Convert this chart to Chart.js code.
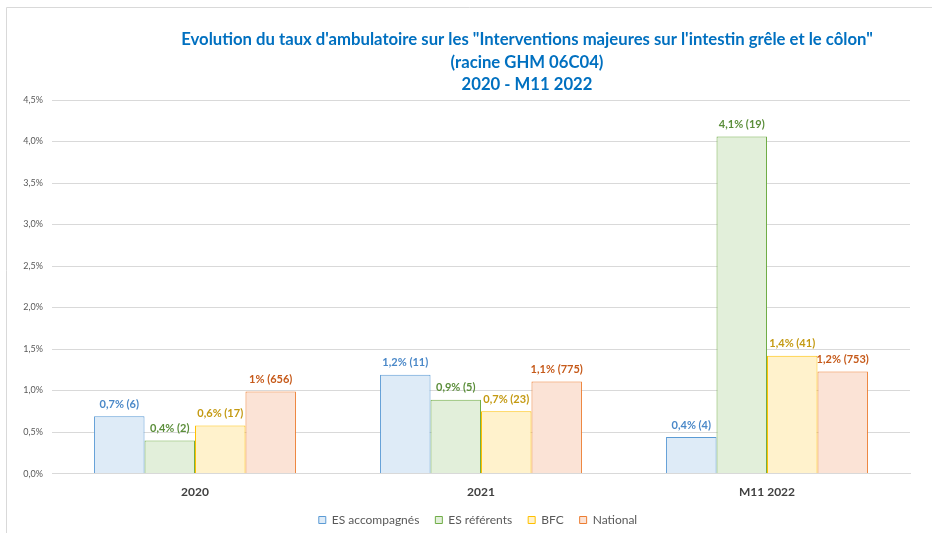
<!DOCTYPE html>
<html>
<head>
<meta charset="utf-8">
<script src="https://cdn.jsdelivr.net/npm/chart.js@4"></script>
<style>
	html, body { margin: 0; padding: 0; background: #fff; }
	#wrap { width: 932px; height: 533px; position: relative; }
</style>
</head>
<body>
<div id="wrap"><canvas id="chart_ambu" width="932" height="533"></canvas></div>
<script>
"use strict";

const periodsArr = ["2020", "2021", "M11 2022"];
const seriesNames = ["ES accompagnés", "ES référents", "BFC", "National"];
const esAccompArr = [0.69, 1.19, 0.44];
const esRefArr = [0.40, 0.89, 4.06];
const bfcArr = [0.58, 0.75, 1.42];
const nationalArr = [0.99, 1.11, 1.23];
const esAccompLabels = ["0,7% (6)", "1,2% (11)", "0,4% (4)"];
const esRefLabels = ["0,4% (2)", "0,9% (5)", "4,1% (19)"];
const bfcLabels = ["0,6% (17)", "0,7% (23)", "1,4% (41)"];
const nationalLabels = ["1% (656)", "1,1% (775)", "1,2% (753)"];
const titleLines = [
	"Evolution du taux d'ambulatoire sur les \"Interventions majeures sur l'intestin grêle et le côlon\"",
	"(racine GHM 06C04)",
	"2020 - M11 2022",
];

const fontFam = "Lato, 'Open Sans', sans-serif";

function makeSet(label, data, txt, border, fill, labelColor) {
	return {
		label: label,
		data: data,
		valueLabels: txt,
		labelColor: labelColor,
		borderColor: border,
		backgroundColor: fill,
		borderWidth: 1,
		borderSkipped: "bottom",
		categoryPercentage: 0.706,
		barPercentage: 1.0,
	};
}

// draws frame, title and the value labels above the bars
const decorPlugin = {
	id: "decor",
	afterLayout(chart) {
		// legend is centred under the plot area, not the canvas
		const lg = chart.legend;
		if (lg) {
			lg.left += 23;
			lg.right += 23;
		}
	},
	beforeDraw(chart) {
		const c = chart.ctx;
		c.save();
		c.strokeStyle = "#d9d9d9";
		c.lineWidth = 1;
		c.beginPath();
		c.moveTo(6.5, 533);
		c.lineTo(6.5, 7.5);
		c.lineTo(932, 7.5);
		c.stroke();
		c.restore();
	},
	afterDatasetsDraw(chart) {
		const c = chart.ctx;
		c.save();
		c.textAlign = "center";
		c.textBaseline = "middle";
		c.font = "bold 11px " + fontFam;
		chart.data.datasets.forEach((ds, i) => {
			const meta = chart.getDatasetMeta(i);
			c.fillStyle = ds.labelColor;
			meta.data.forEach((bar, j) => {
				c.fillText(ds.valueLabels[j], bar.x, bar.y - 12);
			});
		});
		c.fillStyle = "#0070C0";
		c.font = "bold 16.7px " + fontFam;
		const ys = [40, 63, 85];
		titleLines.forEach((t, k) => {
			c.fillText(t, 527, ys[k]);
		});
		c.restore();
	},
};

new Chart(document.getElementById("chart_ambu"), {
	type: "bar",
	data: {
		labels: periodsArr,
		datasets: [
			makeSet(seriesNames[0], esAccompArr, esAccompLabels, "#5B9BD5", "#DEEBF7", "#4A88C8"),
			makeSet(seriesNames[1], esRefArr, esRefLabels, "#70AD47", "#E2EFDA", "#5B8E3A"),
			makeSet(seriesNames[2], bfcArr, bfcLabels, "#FFC000", "#FFF2CC", "#C49A12"),
			makeSet(seriesNames[3], nationalArr, nationalLabels, "#ED7D31", "#FBE3D6", "#C65A1A"),
		],
	},
	options: {
		responsive: false,
		animation: false,
		layout: { padding: { top: 100, right: 22, bottom: -3, left: 0 } },
		plugins: {
			title: { display: false },
			tooltip: { enabled: false },
			legend: {
				position: "bottom",
				labels: {
					boxWidth: 7,
					boxHeight: 7,
					padding: 16,
					color: "#595959",
					font: { family: fontFam, size: 12 },
				},
			},
		},
		scales: {
			x: {
				grid: { display: false },
				border: { color: "#d9d9d9" },
				ticks: {
					color: "#404040",
					padding: 3,
					font: { family: fontFam, size: 12, weight: "bold" },
				},
				afterFit(scale) {
					scale.height = scale.height - 4;
				},
			},
			y: {
				min: 0,
				max: 4.5,
				afterFit(scale) {
					scale.width = 52;
				},
				border: { display: false },
				grid: { color: "#d9d9d9", drawTicks: false },
				ticks: {
					stepSize: 0.5,
					padding: 9,
					color: "#595959",
					font: { family: fontFam, size: 9 },
					callback: (v) => v.toFixed(1).replace(".", ",") + "%",
				},
			},
		},
	},
	plugins: [decorPlugin],
});
</script>
</body>
</html>
